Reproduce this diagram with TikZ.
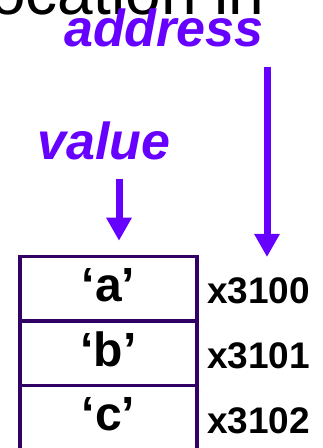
\documentclass[tikz,border=0pt]{standalone}
\usepackage{fontspec}
\setmainfont{Liberation Sans}
\usepackage{tikz}
\usetikzlibrary{arrows.meta,positioning}
\usepackage{xcolor}
\definecolor{tagpurple}{HTML}{6600FF}
\definecolor{memline}{HTML}{330066}

\begin{document}
\begin{tikzpicture}[
    x=1pt, y=1pt,
    cell/.style={draw=memline, line width=3.5pt, outer sep=0pt, inner sep=0pt, minimum width=177pt, minimum height=64.5pt, text height=35pt, text depth=9pt, font=\fontsize{48}{48}\selectfont\bfseries},
    addr/.style={inner sep=0pt, anchor=base west, font=\fontsize{37}{37}\selectfont\bfseries},
    tag/.style={inner sep=0pt, anchor=base, text=tagpurple, font=\fontsize{52}{52}\selectfont\bfseries\itshape},
    arrow/.style={-{Triangle[length=23pt, width=24pt]}, line width=7pt, draw=tagpurple}
]
\useasboundingbox (0,0) rectangle (323,448);
\clip (0,0) rectangle (323,448);

\node[inner sep=0pt, anchor=base east, font=\fontsize{64}{64}\selectfont] (heading) at (264.5,433) {location in};
\node[tag] (address) at (164,401) {address};
\node[tag] (value) at (104,288) {value};

\node[cell] (cell1) at (108.5,159) {‘a’};
\node[cell, below=0pt of cell1] (cell2) {‘b’};
\node[cell, below=0pt of cell2] (cell3) {‘c’};

\node[addr] (addr1) at ([xshift=10pt,yshift=-15pt]cell1.east) {x3100};
\node[addr] (addr2) at ([xshift=10pt,yshift=-15pt]cell2.east) {x3101};
\node[addr] (addr3) at ([xshift=10pt,yshift=-15pt]cell3.east) {x3102};

\coordinate (valtip) at ([xshift=10.5pt,yshift=16pt]cell1.north);
\coordinate (addrtip) at (267,191);
\draw[arrow, shorten <=18pt] (valtip |- value.south) -- (valtip);
\draw[arrow, shorten <=19pt] (addrtip |- address.south) -- (addrtip);
\end{tikzpicture}
\end{document}
